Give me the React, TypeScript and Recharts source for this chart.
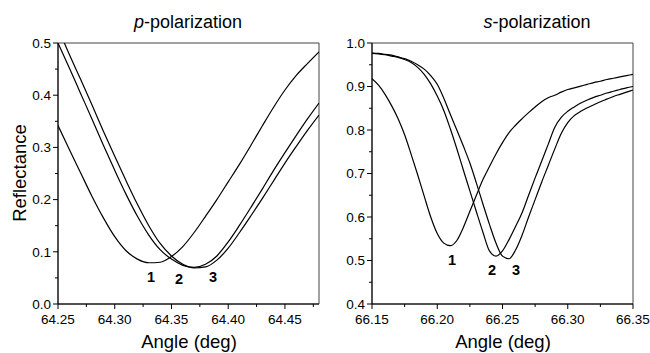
import { Line, LineChart, ReferenceArea, XAxis, YAxis } from "recharts";

// p-polarization panel
const pAngles = [
  64.25, 64.26, 64.27, 64.28, 64.29, 64.3, 64.31, 64.32, 64.33, 64.34, 64.35, 64.36,
  64.37, 64.38, 64.39, 64.4, 64.41, 64.42, 64.43, 64.44, 64.45, 64.46, 64.47, 64.48,
];
const pCurve1 = [
  0.342, 0.296, 0.251, 0.206, 0.165, 0.129, 0.102, 0.086, 0.079, 0.08, 0.091, 0.11,
  0.137, 0.168, 0.2, 0.234, 0.268, 0.304, 0.341, 0.377, 0.41, 0.438, 0.461, 0.483,
];
const pCurve2 = [
  0.5, 0.452, 0.403, 0.354, 0.304, 0.256, 0.21, 0.168, 0.132, 0.104, 0.086, 0.074,
  0.07, 0.076, 0.092, 0.119, 0.151, 0.185, 0.22, 0.256, 0.29, 0.323, 0.355, 0.385,
];
const pCurve3 = [
  0.528, 0.478, 0.43, 0.381, 0.331, 0.283, 0.236, 0.191, 0.15, 0.116, 0.092, 0.076,
  0.069, 0.071, 0.084, 0.107, 0.137, 0.169, 0.202, 0.236, 0.27, 0.302, 0.333, 0.362,
];
const pXMajor = [64.25, 64.3, 64.35, 64.4, 64.45];
const pXMinor = [64.275, 64.325, 64.375, 64.425, 64.475];
const pYMajor = [0, 0.1, 0.2, 0.3, 0.4, 0.5];
const pYMinor = [0.05, 0.15, 0.25, 0.35, 0.45];

// s-polarization panel
const sAngles = [
  66.15, 66.155, 66.16, 66.165, 66.17, 66.175, 66.18, 66.185, 66.19, 66.195, 66.2,
  66.205, 66.21, 66.215, 66.22, 66.225, 66.23, 66.235, 66.24, 66.245, 66.25, 66.255,
  66.26, 66.265, 66.27, 66.275, 66.28, 66.285, 66.29, 66.295, 66.3, 66.305, 66.31,
  66.315, 66.32, 66.325, 66.33, 66.335, 66.34, 66.345, 66.35,
];
const sCurve1 = [
  0.918, 0.903, 0.882, 0.856, 0.826, 0.789, 0.744, 0.697, 0.648, 0.6, 0.562, 0.54,
  0.534, 0.546, 0.576, 0.613, 0.65, 0.686, 0.716, 0.745, 0.771, 0.794, 0.811, 0.826,
  0.84, 0.853, 0.865, 0.874, 0.88, 0.887, 0.893, 0.897, 0.901, 0.905, 0.909, 0.912,
  0.916, 0.919, 0.922, 0.925, 0.928,
];
const sCurve2 = [
  0.976, 0.975, 0.973, 0.97, 0.967, 0.962, 0.955, 0.944, 0.928, 0.906, 0.878, 0.845,
  0.803, 0.757, 0.708, 0.66, 0.612, 0.565, 0.522, 0.51, 0.522, 0.548, 0.578, 0.61,
  0.65, 0.69, 0.728, 0.767, 0.806, 0.829, 0.843, 0.853, 0.862, 0.869, 0.875, 0.88,
  0.885, 0.889, 0.893, 0.897, 0.9,
];
const sCurve3 = [
  0.977, 0.976, 0.974, 0.972, 0.968, 0.964, 0.958, 0.95, 0.94, 0.925, 0.905, 0.873,
  0.836, 0.8, 0.763, 0.724, 0.678, 0.63, 0.583, 0.54, 0.51, 0.504, 0.524, 0.558, 0.6,
  0.64, 0.68, 0.718, 0.756, 0.792, 0.817, 0.833, 0.843, 0.851, 0.858, 0.865, 0.871,
  0.877, 0.882, 0.887, 0.892,
];
const sXMajor = [66.15, 66.2, 66.25, 66.3, 66.35];
const sXMinor = [66.175, 66.225, 66.275, 66.325];
const sYMajor = [0.4, 0.5, 0.6, 0.7, 0.8, 0.9, 1.0];
const sYMinor = [0.45, 0.55, 0.65, 0.75, 0.85, 0.95];

const font = "'Liberation Sans', Arial, Helvetica, sans-serif";

const pRows = pAngles.map((angle, i) => ({ angle, r1: pCurve1[i], r2: pCurve2[i], r3: pCurve3[i] }));
const sRows = sAngles.map((angle, i) => ({ angle, r1: sCurve1[i], r2: sCurve2[i], r3: sCurve3[i] }));

const isMajor = (v: number, majors: number[]) => majors.some((m) => Math.abs(m - v) < 1e-6);
const byValue = (a: number, b: number) => a - b;

function makeXTick(majors: number[]) {
  return function XTick(props: any) {
    const { x, y, payload } = props;
    const major = isMajor(payload.value, majors);
    const axisY = y - 10;
    return (
      <g>
        <line x1={x} x2={x} y1={axisY} y2={axisY + (major ? 5 : 3)} stroke="#000" />
        {major && (
          <text x={x} y={y} dy="0.71em" textAnchor="middle" fontSize={13.5} fill="#000" fontFamily={font}>
            {Number(payload.value).toFixed(2)}
          </text>
        )}
      </g>
    );
  };
}

function makeYTick(majors: number[]) {
  return function YTick(props: any) {
    const { x, y, payload } = props;
    const major = isMajor(payload.value, majors);
    const axisX = x + 7;
    return (
      <g>
        <line x1={axisX} x2={axisX - (major ? 5 : 3)} y1={y} y2={y} stroke="#000" />
        {major && (
          <text x={x} y={y} dy="0.355em" textAnchor="end" fontSize={13.5} fill="#000" fontFamily={font}>
            {Number(payload.value).toFixed(1)}
          </text>
        )}
      </g>
    );
  };
}

type PanelProps = {
  rows: typeof pRows;
  xDomain: [number, number];
  yDomain: [number, number];
  xMajor: number[];
  xMinor: number[];
  yMajor: number[];
  yMinor: number[];
  marginLeft: number;
  marginRight: number;
};

function Panel({ rows, xDomain, yDomain, xMajor, xMinor, yMajor, yMinor, marginLeft, marginRight }: PanelProps) {
  return (
    <LineChart
      width={325}
      height={353}
      data={rows}
      margin={{ top: 43, right: marginRight, bottom: 19, left: marginLeft }}
    >
      <XAxis
        type="number"
        dataKey="angle"
        domain={xDomain}
        ticks={[...xMajor, ...xMinor].sort(byValue)}
        interval={0}
        tick={makeXTick(xMajor)}
        tickLine={false}
        tickSize={5}
        tickMargin={5}
        height={30}
        allowDataOverflow
        axisLine={{ stroke: "#000" }}
      />
      <YAxis
        type="number"
        domain={yDomain}
        ticks={[...yMajor, ...yMinor].sort(byValue)}
        interval={0}
        tick={makeYTick(yMajor)}
        tickLine={false}
        tickSize={5}
        tickMargin={2}
        width={40}
        allowDataOverflow
        axisLine={{ stroke: "#000" }}
      />
      <ReferenceArea x1={xDomain[0]} x2={xDomain[1]} y1={yDomain[0]} y2={yDomain[1]} fill="none" stroke="#444" />
      {["r1", "r2", "r3"].map((key) => (
        <Line
          key={key}
          type="monotone"
          dataKey={key}
          stroke="#000"
          strokeWidth={1.2}
          dot={false}
          activeDot={false}
          isAnimationActive={false}
        />
      ))}
    </LineChart>
  );
}

const textBase = { position: "absolute" as const, fontFamily: font, color: "#000", whiteSpace: "nowrap" as const };

function Mark({ x, y, text }: { x: number; y: number; text: string }) {
  return (
    <div
      style={{
        ...textBase,
        left: x,
        top: y,
        transform: "translate(-50%, -50%)",
        fontSize: 14.5,
        fontWeight: 700,
        lineHeight: "15px",
      }}
    >
      {text}
    </div>
  );
}

export default function App() {
  return (
    <div style={{ position: "absolute", left: 0, top: 0, width: 650, height: 353, background: "#fff", overflow: "hidden" }}>
      <div style={{ position: "absolute", left: 0, top: 0 }}>
        <Panel
          rows={pRows}
          xDomain={[64.25, 64.48]}
          yDomain={[0, 0.5]}
          xMajor={pXMajor}
          xMinor={pXMinor}
          yMajor={pYMajor}
          yMinor={pYMinor}
          marginLeft={18}
          marginRight={6}
        />
      </div>
      <div style={{ position: "absolute", left: 325, top: 0 }}>
        <Panel
          rows={sRows}
          xDomain={[66.15, 66.35]}
          yDomain={[0.4, 1.0]}
          xMajor={sXMajor}
          xMinor={sXMinor}
          yMajor={sYMajor}
          yMinor={sYMinor}
          marginLeft={7}
          marginRight={17}
        />
      </div>

      <div style={{ ...textBase, left: 188, top: 13, transform: "translateX(-50%)", fontSize: 18, lineHeight: "19px" }}>
        <i>p</i>-polarization
      </div>
      <div style={{ ...textBase, left: 537, top: 13, transform: "translateX(-50%)", fontSize: 18, lineHeight: "19px" }}>
        <i>s</i>-polarization
      </div>
      <div
        style={{
          ...textBase,
          left: 19,
          top: 173,
          transform: "translate(-50%, -50%) rotate(-90deg)",
          fontSize: 18.5,
          lineHeight: "19px",
        }}
      >
        Reflectance
      </div>
      <div style={{ ...textBase, left: 189, top: 332, transform: "translateX(-50%)", fontSize: 18.5, lineHeight: "19px" }}>
        Angle (deg)
      </div>
      <div style={{ ...textBase, left: 503, top: 332, transform: "translateX(-50%)", fontSize: 18.5, lineHeight: "19px" }}>
        Angle (deg)
      </div>

      <Mark x={151} y={277} text="1" />
      <Mark x={179} y={279} text="2" />
      <Mark x={213} y={277} text="3" />
      <Mark x={452} y={260} text="1" />
      <Mark x={492} y={270} text="2" />
      <Mark x={516} y={270} text="3" />
    </div>
  );
}
